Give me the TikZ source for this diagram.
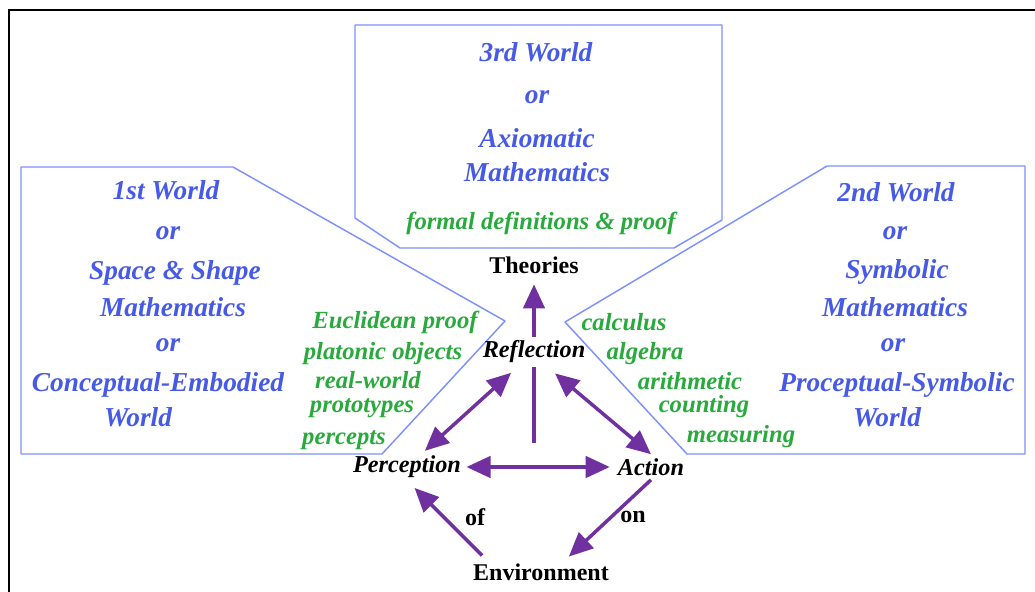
\documentclass[tikz,border=0pt]{standalone}
\usepackage{fontspec}
\setmainfont{Liberation Serif}
\usetikzlibrary{arrows.meta}
\definecolor{worldblue}{RGB}{70,90,230}
\definecolor{edgeblue}{RGB}{125,145,255}
\definecolor{itemgreen}{RGB}{40,170,60}
\definecolor{arrowpurple}{RGB}{112,48,160}
\begin{document}
\begin{tikzpicture}[x=0.75pt,y=0.75pt,yscale=-1,xscale=1,
  world/.style={text=worldblue, font=\fontsize{20.5}{24}\selectfont\bfseries\itshape, inner sep=0pt},
  item/.style={text=itemgreen, font=\fontsize{18.5}{22}\selectfont\bfseries\itshape, inner sep=0pt},
  stagelabel/.style={font=\fontsize{18.2}{21}\selectfont\bfseries\itshape, inner sep=3pt},
  wordlabel/.style={font=\fontsize{18}{21}\selectfont\bfseries, inner sep=3pt},
  flowline/.style={draw=arrowpurple, line width=2.6pt},
  flow/.style={flowline, -{Triangle[length=18pt,width=16pt]}},
  twoway/.style={flowline, {Triangle[length=18pt,width=16pt]}-{Triangle[length=18pt,width=16pt]}},
  worldbox/.style={draw=edgeblue, line width=1.1pt, line join=round}]
\useasboundingbox (0,0) rectangle (1035,592);
\clip (0,0) rectangle (1035,592);

%Frame
\draw [line width=1.5pt] (9,10) rectangle (1050,605);

%Shape: Polygon 3rd world
\draw [worldbox] (355,25) -- (722,25) -- (722,220) -- (674,248) -- (400,248) -- (355,218) -- cycle ;
%Shape: Polygon 1st world
\draw [worldbox] (21,167) -- (233,167) -- (505,321) -- (382,454) -- (21,454) -- cycle ;
%Shape: Polygon 2nd world
\draw [worldbox] (827,166) -- (1025,166) -- (1025,454) -- (687,454) -- (565,322) -- cycle ;

% Text Node
\draw (536,52) node [world] (thirdA) {3rd World};
\draw (537,97) node [world] (thirdB) {or};
\draw (537,138) node [world] (thirdC) {Axiomatic};
\draw (537,172) node [world] (thirdD) {Mathematics};
\draw (541,223) node [item] (formal) {formal definitions \& proof};

% Text Node
\draw (166,190) node [world] (firstA) {1st World};
\draw (168,233) node [world] (firstB) {or};
\draw (175,273) node [world] (firstC) {Space \& Shape};
\draw (173,307) node [world] (firstD) {Mathematics};
\draw (168,345) node [world] (firstE) {or};
\draw (158,385) node [world] (firstF) {Conceptual-Embodied};
\draw (138,417) node [world] (firstG) {World};

% Text Node
\draw (896,192) node [world] (secondA) {2nd World};
\draw (895,233) node [world] (secondB) {or};
\draw (897,272) node [world] (secondC) {Symbolic};
\draw (895,307) node [world] (secondD) {Mathematics};
\draw (893,345) node [world] (secondE) {or};
\draw (897,385) node [world] (secondF) {Proceptual-Symbolic};
\draw (887,417) node [world] (secondG) {World};

% Text Node
\draw (395,322) node [item] (euclid) {Euclidean proof};
\draw (383,354) node [item] (platonic) {platonic objects};
\draw (368,380) node [item] (realworld) {real-world};
\draw (362,408) node [item] (prototypes) {prototypes};
\draw (344,440) node [item] (percepts) {percepts};

% Text Node
\draw (624,322) node [item] (calculus) {calculus};
\draw (645,354) node [item] (algebra) {algebra};
\draw (690,381) node [item] (arithmetic) {arithmetic};
\draw (704,407) node [item] (counting) {counting};
\draw (741,437) node [item] (measuring) {measuring};

% Text Node
\draw (534,265) node [wordlabel] (theo) {Theories};
\draw (534,352) node [stagelabel] (refl) {Reflection};
\draw (407,467) node [stagelabel] (perc) {Perception};
\draw (651,467) node [stagelabel] (act) {Action};
\draw (541,572) node [wordlabel] (env) {Environment};
\draw (475,517) node [wordlabel] (of) {of};
\draw (633,517) node [wordlabel] (on) {on};
\coordinate (base) at (534,443);

%Straight Lines
\draw [flowline] (base) -- (refl);
\draw [flow, shorten >=5pt] (refl) -- (theo);
\draw [twoway, shorten <=1pt, shorten >=6pt] (perc) -- (refl);
\draw [twoway, shorten <=7pt] (refl.-48) -- (act.north);
\draw [twoway, shorten <=1pt, shorten >=3pt] (perc) -- (act);
\draw [flow, shorten <=4pt, shorten >=6pt] (env.167) -- (perc.-83);
\draw [flow, shorten >=3pt] (act.south) -- (env.27);

\end{tikzpicture}
\end{document}
